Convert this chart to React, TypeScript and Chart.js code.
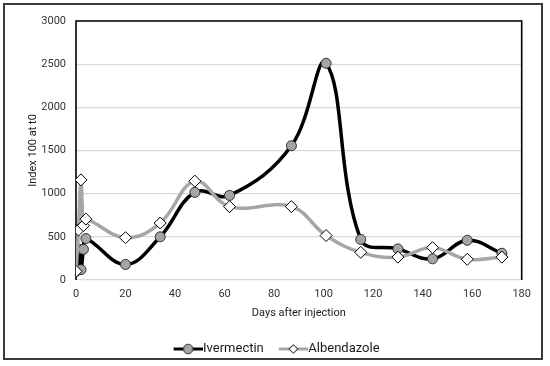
import React, { useEffect, useRef } from "react";
import { Chart, registerables } from "chart.js";

Chart.register(...registerables);

const days = [0, 1, 2, 3, 4, 20, 34, 48, 62, 87, 101, 115, 130, 144, 158, 172];
const ivermectin = [100, 360, 120, 355, 480, 180, 500, 1015, 980, 1555, 2510, 470, 360, 245, 460, 310];
const albendazole = [100, 580, 1160, 630, 705, 490, 660, 1145, 850, 850, 515, 320, 265, 375, 240, 265];
const seriesNames = ["Ivermectin", "Albendazole"];
const xTitle = "Days after injection";
const yTitle = "Index 100 at t0";

const FONT = "Roboto";

function legendSwatch(kind: "circle" | "diamond"): HTMLCanvasElement {
  const c = document.createElement("canvas");
  c.width = 40;
  c.height = 14;
  const ctx = c.getContext("2d")!;
  const cy = 7;
  ctx.lineCap = "butt";
  ctx.lineWidth = 3;
  ctx.strokeStyle = kind === "circle" ? "#000000" : "#a6a6a6";
  ctx.beginPath();
  ctx.moveTo(11, cy);
  ctx.lineTo(40, cy);
  ctx.stroke();
  const mx = 25.5;
  ctx.lineWidth = 1;
  ctx.strokeStyle = kind === "circle" ? "#303030" : "#000000";
  ctx.fillStyle = kind === "circle" ? "#a5a5a5" : "#ffffff";
  ctx.beginPath();
  if (kind === "circle") {
    ctx.arc(mx, cy, 4.8, 0, Math.PI * 2);
  } else {
    ctx.moveTo(mx, cy - 4.3);
    ctx.lineTo(mx + 4.3, cy);
    ctx.lineTo(mx, cy + 4.3);
    ctx.lineTo(mx - 4.3, cy);
    ctx.closePath();
  }
  ctx.fill();
  ctx.stroke();
  return c;
}

const plotFrame = {
  id: "plotFrame",
  beforeDatasetsDraw(chart: any) {
    const { ctx, chartArea } = chart;
    const { left, top, right, bottom } = chartArea;
    ctx.save();
    ctx.strokeStyle = "#000000";
    ctx.lineWidth = 1.6;
    ctx.beginPath();
    ctx.moveTo(left, bottom);
    ctx.lineTo(left, top);
    ctx.lineTo(right, top);
    ctx.lineTo(right, bottom);
    ctx.stroke();
    ctx.restore();
  },
};

export default function App() {
  const ref = useRef<HTMLCanvasElement | null>(null);

  useEffect(() => {
    if (!ref.current) return;
    const swatches = [legendSwatch("circle"), legendSwatch("diamond")];
    const chart = new Chart(ref.current, {
      type: "line",
      data: {
        datasets: [
          {
            label: seriesNames[0],
            data: days.map((d, i) => ({ x: d, y: ivermectin[i] })),
            borderColor: "#000000",
            borderWidth: 3.5,
            backgroundColor: "#a5a5a5",
            pointStyle: "circle",
            pointRadius: 5,
            pointBorderColor: "#303030",
            pointBackgroundColor: "#a5a5a5",
            pointBorderWidth: 1,
            tension: 0.4,
            borderJoinStyle: "round",
            borderCapStyle: "round",
            order: 1,
          },
          {
            label: seriesNames[1],
            data: days.map((d, i) => ({ x: d, y: albendazole[i] })),
            borderColor: "#a6a6a6",
            borderWidth: 3.5,
            backgroundColor: "#ffffff",
            pointStyle: "rectRot",
            pointRadius: 6,
            pointBorderColor: "#000000",
            pointBackgroundColor: "#ffffff",
            pointBorderWidth: 1,
            tension: 0.4,
            borderJoinStyle: "round",
            borderCapStyle: "round",
            order: 0,
          },
        ],
      },
      options: {
        animation: false,
        responsive: false,
        maintainAspectRatio: false,
        layout: { padding: { left: 26.4, right: 28.3, top: 21, bottom: 0.5 } },
        scales: {
          x: {
            type: "linear",
            min: 0,
            max: 180,
            ticks: {
              stepSize: 20,
              padding: 8,
              color: "#333333",
              font: { family: FONT, size: 11 },
              maxRotation: 0,
              callback: (v: any) => String(v),
            },
            grid: { display: false, drawTicks: false },
            border: { display: false },
            title: {
              display: true,
              text: xTitle,
              color: "#1a1a1a",
              font: { family: FONT, size: 11 },
              padding: { top: 0, bottom: 12.9 },
            },
            afterFit: (s: any) => {
              s.height = 52.5;
            },
          },
          y: {
            min: 0,
            max: 3000,
            ticks: {
              stepSize: 500,
              padding: 10,
              color: "#333333",
              font: { family: FONT, size: 11 },
              callback: (v: any) => String(v),
            },
            grid: { color: "#d9d9d9", lineWidth: 1.2, drawTicks: false },
            border: { display: false },
            title: {
              display: true,
              text: yTitle,
              color: "#1a1a1a",
              font: { family: FONT, size: 11 },
              padding: { top: 0, bottom: 0 },
            },
            afterFit: (s: any) => {
              s.width = 49.6;
            },
          },
        },
        plugins: {
          legend: {
            display: true,
            position: "bottom",
            labels: {
              usePointStyle: true,
              pointStyleWidth: 28,
              padding: 10,
              color: "#1a1a1a",
              font: { family: FONT, size: 13 },
              generateLabels: () =>
                seriesNames.map((name, i) => ({
                  text: name,
                  pointStyle: swatches[i] as any,
                  fillStyle: "#ffffff",
                  strokeStyle: "#ffffff",
                  lineWidth: 0,
                  hidden: false,
                  datasetIndex: i,
                  fontColor: "#1a1a1a",
                })),
            },
          },
          tooltip: { enabled: false },
        },
      },
      plugins: [plotFrame],
    });
    return () => chart.destroy();
  }, []);

  return (
    <div
      style={{
        position: "fixed",
        left: 0,
        top: 0,
        width: 550,
        height: 366,
        background: "#ffffff",
      }}
    >
      <canvas ref={ref} width={550} height={366} style={{ position: "absolute", left: 0, top: 0 }} />
      <div
        style={{
          position: "absolute",
          left: 3,
          top: 3,
          width: 540,
          height: 357,
          boxSizing: "border-box",
          border: "2px solid #3a3a3a",
          pointerEvents: "none",
        }}
      />
    </div>
  );
}
